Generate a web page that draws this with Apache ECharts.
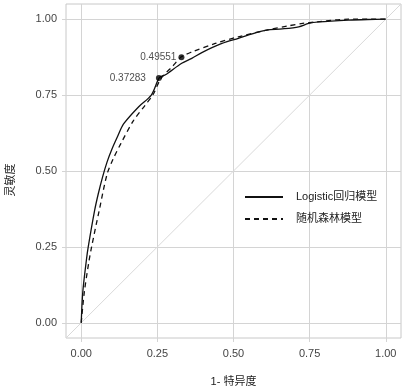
<!DOCTYPE html>
<html>
<head>
<meta charset="utf-8">
<script src="https://cdn.jsdelivr.net/npm/echarts@6/dist/echarts.min.js"></script>
<style>
  html, body { margin: 0; padding: 0; background: #fff; }
  #chart { width: 406px; height: 390px; }
</style>
</head>
<body>
<div id="chart"></div>
<script>
const ticks = [0, 0.25, 0.5, 0.75, 1]
const seriesNames = ['Logistic回归模型', '随机森林模型']

// logistic ROC: [1 - specificity, sensitivity]
const logitFpr = [0, 0.005, 0.017, 0.023, 0.044, 0.056, 0.07, 0.085, 0.1, 0.12, 0.139, 0.188, 0.23, 0.257, 0.275, 0.33, 0.363, 0.396, 0.462, 0.516, 0.582, 0.609, 0.66, 0.714, 0.747, 0.78, 0.878, 0.94, 1]
const logitTpr = [0, 0.1, 0.207, 0.25, 0.37, 0.425, 0.48, 0.53, 0.57, 0.615, 0.655, 0.711, 0.75, 0.808, 0.816, 0.855, 0.871, 0.89, 0.92, 0.937, 0.958, 0.964, 0.968, 0.975, 0.986, 0.991, 0.997, 0.999, 1]

// random forest ROC
const rfFpr = [0, 0.01, 0.025, 0.034, 0.059, 0.085, 0.105, 0.13, 0.171, 0.21, 0.235, 0.262, 0.3, 0.329, 0.363, 0.44, 0.516, 0.609, 0.68, 0.727, 0.773, 0.878, 1]
const rfTpr = [0, 0.1, 0.2, 0.25, 0.37, 0.49, 0.54, 0.59, 0.665, 0.717, 0.75, 0.805, 0.845, 0.876, 0.892, 0.92, 0.942, 0.964, 0.978, 0.986, 0.991, 1, 1]

// best cut-off points
const cutX = [0.255, 0.329]
const cutY = [0.806, 0.875]
const cutLabels = ['0.37283', '0.49551']

const diag = [[-0.05, -0.05], [1.05, 1.05]]

const font = '"Liberation Sans", "Noto Sans CJK SC", sans-serif'
const gridColor = '#d4d4d4'
const zip = (a, b) => a.map((v, i) => [v, b[i]])

const chart = echarts.init(document.getElementById('chart'))

const axisCommon = {
  type: 'value',
  min: -0.05,
  max: 1.05,
  axisLine: { show: false, onZero: false },
  axisTick: { show: true, length: 4, customValues: ticks, lineStyle: { color: gridColor } },
  axisLabel: {
    customValues: ticks,
    color: '#444',
    fontSize: 11,
    fontFamily: font,
    formatter: (v) => v.toFixed(2),
  },
  splitLine: { show: true, lineStyle: { color: gridColor, width: 1 } },
  nameLocation: 'middle',
  nameTextStyle: { color: '#222', fontSize: 11, fontFamily: font },
}

chart.setOption({
  animation: false,
  backgroundColor: '#fff',
  grid: {
    left: 66, right: 5, top: 4, bottom: 52,
    outerBoundsMode: 'none',
    show: true, borderColor: '#c8c8c8', borderWidth: 1,
  },
  legend: {
    orient: 'vertical',
    left: 239,
    top: 185,
    itemWidth: 38,
    itemHeight: 14,
    itemGap: 8,
    data: seriesNames,
    itemStyle: { opacity: 0 },
    textStyle: { color: '#222', fontSize: 11, fontFamily: font, padding: [0, 0, 0, 8], lineHeight: 14 },
  },
  xAxis: { ...axisCommon, name: '1- 特异度', nameGap: 38, axisLabel: { ...axisCommon.axisLabel, margin: 10 } },
  yAxis: {
    ...axisCommon,
    name: '灵敏度',
    nameGap: 50,
    nameTextStyle: { ...axisCommon.nameTextStyle, padding: [0, 18, 0, 0] },
    axisLabel: { ...axisCommon.axisLabel, margin: 9 },
  },
  series: [
    {
      type: 'line',
      data: diag,
      symbol: 'none',
      silent: true,
      lineStyle: { color: '#d9d9d9', width: 1 },
      z: 1,
    },
    {
      name: seriesNames[0],
      type: 'line',
      data: zip(logitFpr, logitTpr),
      symbol: 'none',
      smooth: 0.3,
      lineStyle: { color: '#111', width: 1.3 },
      itemStyle: { color: '#111' },
      z: 3,
    },
    {
      name: seriesNames[1],
      type: 'line',
      data: zip(rfFpr, rfTpr),
      symbol: 'none',
      smooth: 0.3,
      lineStyle: { color: '#111', width: 1.3, type: [5, 4] },
      itemStyle: { color: '#111' },
      z: 3,
    },
    {
      type: 'scatter',
      data: cutX.map((x, i) => ({
        value: [x, cutY[i]],
        label: { distance: i === 0 ? 10 : 2 },
      })),
      symbolSize: 6,
      itemStyle: { color: '#000' },
      label: {
        show: true,
        position: 'left',
        color: '#222',
        fontSize: 10,
        fontFamily: font,
        formatter: (p) => cutLabels[p.dataIndex],
      },
      z: 4,
    },
  ],
})
</script>
</body>
</html>
